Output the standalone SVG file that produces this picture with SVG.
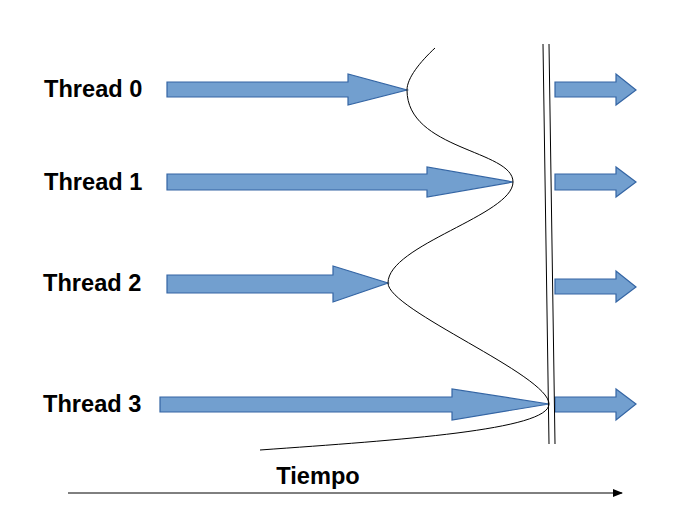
<svg xmlns="http://www.w3.org/2000/svg" width="680" height="510" viewBox="0 0 680 510">
<style>
.lbl{font-family:"Liberation Sans",Arial,sans-serif;font-weight:bold;font-size:23.6px;fill:#000}
.arr{fill:#729fcf;stroke:#3465a4;stroke-width:1.2}
.ln{fill:none;stroke:#000;stroke-width:1}
</style>
<defs>
<marker id="ah" markerWidth="10" markerHeight="8" refX="9" refY="4" orient="auto" markerUnits="userSpaceOnUse">
<path d="M0,0 L10,4 L0,8 Z" fill="#000"/>
</marker>
</defs>
<rect width="680" height="510" fill="#fff"/>
<g id="thread0">
<text class="lbl" x="44" y="97">Thread 0</text>
<path class="arr" d="M167,82 H348 V74 L407,90 L348,105 V97 H167 Z"/>
<path class="arr" d="M555,82 H616 V74 L636,90 L616,105 V97 H555 Z"/>
</g>
<g id="thread1">
<text class="lbl" x="44" y="190">Thread 1</text>
<path class="arr" d="M167,174 H427 V167 L513,182 L427,197 V190 H167 Z"/>
<path class="arr" d="M555,174 H616 V167 L636,182 L616,197 V190 H555 Z"/>
</g>
<g id="thread2">
<text class="lbl" x="43" y="291">Thread 2</text>
<path class="arr" d="M167,275 H333 V266 L388,283 L333,302 V293 H167 Z"/>
<path class="arr" d="M555,279 H616 V271 L636,287 L616,302 V294 H555 Z"/>
</g>
<g id="thread3">
<text class="lbl" x="43" y="412">Thread 3</text>
<path class="arr" d="M160,397 H452 V389 L549,404 L452,420 V412 H160 Z"/>
<path class="arr" d="M555,397 H616 V389 L636,404 L616,420 V412 H555 Z"/>
</g>
<g id="barrier">
<line class="ln" x1="543" y1="44" x2="549" y2="444"/>
<line class="ln" x1="549" y1="44" x2="555" y2="444"/>
</g>
<g id="connectors">
<path class="ln" d="M435,48 C420,62 407,78 407,90 C407,150 513,150 513,182 C513,215 388,245 388,283 C388,310 549,375 549,404 C549,430 400,440 260,450"/>
<line class="ln" x1="68" y1="493" x2="622" y2="493" marker-end="url(#ah)"/>
</g>
<g id="axis-label">
<text class="lbl" x="318" y="484" text-anchor="middle">Tiempo</text>
</g>
</svg>
